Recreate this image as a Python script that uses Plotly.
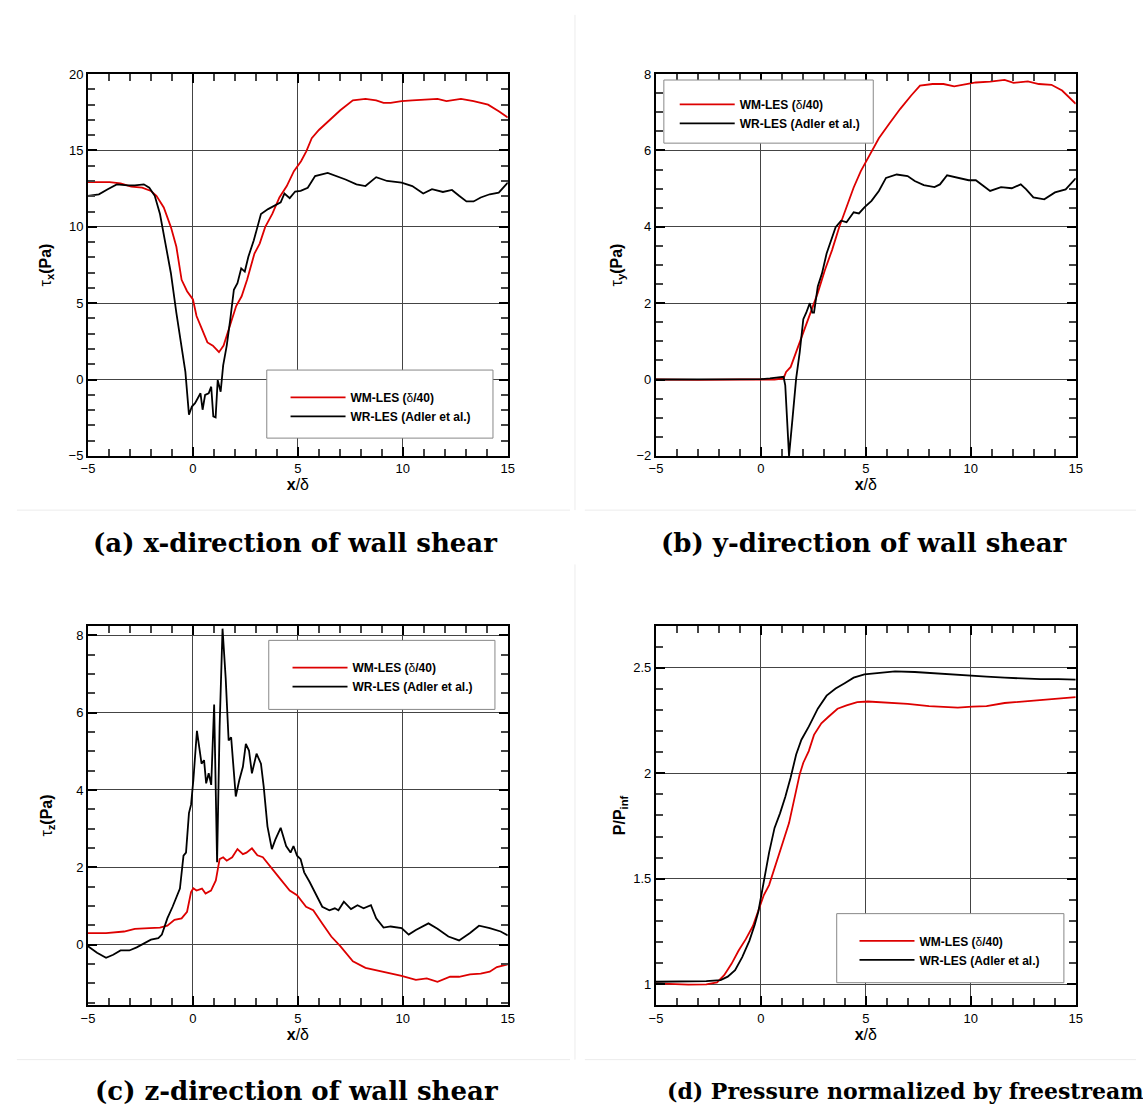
import plotly.graph_objects as go

W, H = 1143, 1115

# ---------------- data ----------------
# (a) tau_x
ax_wm_x = [-5, -3.97, -3.45, -2.94, -2.42, -2.0, -1.74, -1.39, -1.05, -0.79, -0.54, -0.28, 0.0, 0.17, 0.43, 0.69, 0.95, 1.24, 1.46, 1.81, 2.06, 2.32, 2.58, 2.93, 3.18, 3.44, 3.78, 4.12, 4.47, 4.81, 5.15, 5.4, 5.66, 6.0, 6.52, 7.02, 7.62, 8.22, 8.73, 9.08, 9.42, 9.94, 10.45, 10.97, 11.65, 12.08, 12.77, 13.37, 14.06, 14.57, 15]
ax_wm_y = [12.93, 12.93, 12.85, 12.63, 12.56, 12.35, 12.03, 11.27, 9.98, 8.69, 6.53, 5.78, 5.24, 4.16, 3.30, 2.43, 2.22, 1.79, 2.22, 3.73, 4.81, 5.45, 6.53, 8.25, 8.9, 9.98, 10.84, 11.92, 12.67, 13.64, 14.29, 14.94, 15.8, 16.34, 16.98, 17.63, 18.28, 18.38, 18.28, 18.12, 18.12, 18.23, 18.28, 18.32, 18.38, 18.23, 18.38, 18.23, 18.0, 17.56, 17.16]
ax_wr_x = [-5, -4.48, -4.06, -3.63, -3.11, -2.77, -2.34, -2.08, -1.82, -1.57, -1.31, -1.05, -0.79, -0.54, -0.36, -0.19, -0.05, 0.1, 0.24, 0.36, 0.46, 0.58, 0.75, 0.87, 0.97, 1.08, 1.18, 1.32, 1.44, 1.61, 1.78, 1.95, 2.12, 2.30, 2.47, 2.64, 2.90, 3.07, 3.24, 3.58, 3.93, 4.18, 4.36, 4.61, 4.87, 5.13, 5.47, 5.82, 6.42, 6.85, 7.27, 7.79, 8.22, 8.73, 9.25, 9.94, 10.45, 10.97, 11.39, 11.91, 12.34, 12.68, 13.03, 13.37, 13.71, 14.14, 14.57, 15]
ax_wr_y = [12.03, 12.13, 12.46, 12.78, 12.71, 12.71, 12.78, 12.56, 12.03, 10.84, 8.90, 6.96, 4.37, 2.22, 0.50, -2.3, -1.77, -1.55, -1.23, -0.9, -1.98, -1.01, -0.9, -0.47, -2.41, -2.48, -0.04, -0.8, 0.93, 2.22, 3.95, 5.88, 6.31, 7.28, 7.07, 8.04, 9.12, 9.98, 10.84, 11.16, 11.44, 11.6, 12.18, 11.88, 12.31, 12.35, 12.56, 13.32, 13.53, 13.32, 13.1, 12.78, 12.67, 13.25, 13.0, 12.89, 12.67, 12.18, 12.46, 12.28, 12.41, 12.03, 11.66, 11.66, 11.92, 12.13, 12.24, 12.89]

# (b) tau_y
ay_wm_x = [-5, -3.0, -1.0, 0.0, 0.65, 1.08, 1.2, 1.42, 1.68, 2.02, 2.36, 2.71, 3.05, 3.39, 3.73, 4.08, 4.42, 4.76, 5.10, 5.62, 6.13, 6.64, 7.16, 7.58, 8.18, 8.70, 9.21, 9.73, 10.24, 10.92, 11.61, 12.04, 12.72, 13.24, 13.84, 14.35, 15]
ay_wm_y = [0.0, -0.01, 0.0, 0.0, 0.0, 0.03, 0.2, 0.33, 0.72, 1.23, 1.71, 2.27, 2.87, 3.39, 3.99, 4.51, 5.03, 5.46, 5.80, 6.32, 6.71, 7.09, 7.44, 7.70, 7.74, 7.74, 7.68, 7.74, 7.78, 7.80, 7.85, 7.77, 7.81, 7.74, 7.72, 7.57, 7.22]
ay_wr_x = [-5, -2.5, 0.0, 0.43, 1.08, 1.16, 1.34, 1.51, 1.68, 1.85, 2.02, 2.16, 2.33, 2.45, 2.53, 2.71, 2.91, 3.13, 3.30, 3.56, 3.82, 4.08, 4.42, 4.67, 4.93, 5.27, 5.62, 5.96, 6.47, 6.99, 7.33, 7.76, 8.27, 8.53, 8.87, 9.38, 9.90, 10.24, 10.58, 10.92, 11.44, 11.95, 12.38, 12.64, 12.98, 13.50, 14.01, 14.52, 15]
ay_wr_y = [0.0, 0.0, 0.01, 0.03, 0.07, -0.15, -2.0, -1.0, 0.03, 0.72, 1.58, 1.75, 2.0, 1.75, 1.75, 2.44, 2.78, 3.30, 3.56, 3.99, 4.16, 4.12, 4.38, 4.35, 4.51, 4.68, 4.94, 5.28, 5.37, 5.33, 5.20, 5.09, 5.04, 5.11, 5.35, 5.28, 5.22, 5.22, 5.07, 4.94, 5.04, 5.01, 5.11, 4.98, 4.77, 4.72, 4.90, 4.98, 5.27]

# (c) tau_z
az_wm_x = [-5, -4.14, -3.28, -2.77, -2.08, -1.57, -1.22, -0.88, -0.54, -0.28, -0.09, 0.02, 0.17, 0.43, 0.60, 0.86, 1.09, 1.27, 1.44, 1.61, 1.87, 2.12, 2.38, 2.55, 2.81, 3.07, 3.33, 3.67, 4.10, 4.61, 4.96, 5.39, 5.73, 6.16, 6.59, 7.02, 7.62, 8.22, 9.08, 9.94, 10.62, 11.14, 11.65, 12.25, 12.68, 13.20, 13.71, 14.14, 14.48, 15]
az_wm_y = [0.30, 0.30, 0.34, 0.41, 0.43, 0.44, 0.49, 0.64, 0.68, 0.85, 1.36, 1.46, 1.40, 1.45, 1.32, 1.40, 1.66, 2.21, 2.26, 2.17, 2.26, 2.47, 2.34, 2.38, 2.49, 2.31, 2.26, 2.04, 1.74, 1.40, 1.28, 0.98, 0.89, 0.55, 0.21, -0.04, -0.43, -0.60, -0.70, -0.81, -0.91, -0.87, -0.96, -0.83, -0.83, -0.77, -0.75, -0.70, -0.58, -0.51]
az_wr_x = [-5, -4.57, -4.14, -3.80, -3.45, -3.03, -2.68, -2.34, -2.00, -1.65, -1.48, -1.22, -0.97, -0.62, -0.45, -0.33, -0.19, -0.09, 0.02, 0.19, 0.33, 0.41, 0.53, 0.63, 0.75, 0.87, 1.01, 1.15, 1.27, 1.41, 1.56, 1.70, 1.82, 1.90, 2.04, 2.21, 2.38, 2.52, 2.67, 2.81, 3.03, 3.24, 3.37, 3.55, 3.76, 3.93, 4.18, 4.44, 4.65, 4.79, 4.96, 5.13, 5.30, 5.56, 5.82, 6.16, 6.50, 6.76, 6.93, 7.19, 7.53, 7.84, 8.13, 8.48, 8.73, 9.08, 9.42, 9.94, 10.28, 10.62, 11.22, 11.65, 12.17, 12.68, 13.20, 13.63, 14.14, 14.66, 15]
az_wr_y = [-0.04, -0.21, -0.34, -0.26, -0.15, -0.15, -0.07, 0.04, 0.13, 0.17, 0.26, 0.68, 0.98, 1.45, 2.30, 2.38, 3.40, 3.62, 4.26, 5.53, 5.02, 4.68, 4.77, 4.17, 4.43, 4.13, 6.21, 2.13, 5.62, 8.17, 6.89, 5.28, 5.36, 4.85, 3.83, 4.26, 4.60, 5.19, 5.02, 4.43, 4.94, 4.68, 4.09, 3.06, 2.47, 2.72, 3.02, 2.55, 2.38, 2.55, 2.30, 2.21, 1.87, 1.62, 1.36, 0.98, 0.89, 0.94, 0.89, 1.11, 0.92, 1.02, 0.94, 1.02, 0.68, 0.44, 0.47, 0.43, 0.26, 0.38, 0.55, 0.41, 0.21, 0.11, 0.30, 0.49, 0.43, 0.34, 0.24]

# (d) P / P_inf
ap_wm_x = [-5, -4.14, -3.46, -2.60, -2.09, -1.75, -1.40, -1.06, -0.72, -0.38, -0.03, 0.14, 0.39, 0.65, 0.99, 1.34, 1.59, 1.85, 2.02, 2.28, 2.53, 2.88, 3.22, 3.65, 4.08, 4.59, 5.10, 5.96, 6.99, 8.01, 8.87, 9.38, 10.07, 10.75, 11.61, 12.47, 13.32, 14.18, 15]
ap_wm_y = [1.004, 1.0, 0.998, 1.0, 1.009, 1.043, 1.097, 1.16, 1.214, 1.276, 1.369, 1.423, 1.47, 1.555, 1.655, 1.764, 1.872, 1.996, 2.05, 2.105, 2.182, 2.237, 2.268, 2.306, 2.322, 2.337, 2.34, 2.334, 2.329, 2.318, 2.312, 2.311, 2.316, 2.318, 2.333, 2.34, 2.35, 2.356, 2.361]
ap_wr_x = [-5, -3.80, -2.60, -1.92, -1.58, -1.23, -0.89, -0.55, -0.29, -0.12, 0.05, 0.22, 0.39, 0.65, 0.91, 1.16, 1.42, 1.68, 1.93, 2.28, 2.71, 3.13, 3.56, 3.99, 4.42, 4.93, 5.62, 6.39, 7.33, 8.18, 9.04, 9.90, 10.75, 11.61, 12.47, 13.32, 14.18, 15]
ap_wr_y = [1.012, 1.014, 1.015, 1.02, 1.036, 1.067, 1.129, 1.206, 1.283, 1.345, 1.439, 1.516, 1.624, 1.741, 1.810, 1.888, 1.981, 2.089, 2.159, 2.221, 2.306, 2.368, 2.402, 2.427, 2.453, 2.469, 2.477, 2.483, 2.48, 2.474, 2.467, 2.463, 2.458, 2.453, 2.449, 2.446, 2.446, 2.444]

names = ["<b>WM-LES (</b>δ<b>/40)</b>", "<b>WR-LES (Adler et al.)</b>"]
colors = ["#dd0000", "#000000"]

# axis tick settings: (range, major step, minor step)
x_range, x_dtick, x_minor = [-5, 15], 5, 1
ya_range, ya_dtick, ya_minor = [-5, 20], 5, 1
yb_range, yb_dtick, yb_minor = [-2, 8], 2, 0.5
yc_range, yc_dtick, yc_minor = [-1.57, 8.25], 2, 0.5
yd_range, yd_dtick, yd_minor = [0.9, 2.7], 0.5, 0.1

captions = ["(a) x-direction of wall shear", "(b) y-direction of wall shear",
            "(c) z-direction of wall shear", "(d) Pressure normalized by freestream"]

# ---------------- figure ----------------
fig = go.Figure()
panels = [
    (ax_wm_x, ax_wm_y, ax_wr_x, ax_wr_y, "x", "y", "legend"),
    (ay_wm_x, ay_wm_y, ay_wr_x, ay_wr_y, "x2", "y2", "legend2"),
    (az_wm_x, az_wm_y, az_wr_x, az_wr_y, "x3", "y3", "legend3"),
    (ap_wm_x, ap_wm_y, ap_wr_x, ap_wr_y, "x4", "y4", "legend4"),
]
for (x1, y1, x2, y2, xa, ya, lg) in panels:
    fig.add_trace(go.Scatter(x=x1, y=y1, mode="lines", name=names[0], xaxis=xa, yaxis=ya,
                             line=dict(color=colors[0], width=1.8), legend=lg))
    fig.add_trace(go.Scatter(x=x2, y=y2, mode="lines", name=names[1], xaxis=xa, yaxis=ya,
                             line=dict(color=colors[1], width=1.8), legend=lg))

def px(v):
    return v / W

def py(v):
    return 1 - v / H

tickfont = dict(family="Liberation Sans, Arial, sans-serif", size=13, color="black")
titlefont = dict(family="Liberation Sans, Arial, sans-serif", size=16, color="black")

def common(rng, dt, mdt):
    return dict(range=rng, tickmode="linear", tick0=0, dtick=dt,
                showline=True, linecolor="black", linewidth=2, mirror="allticks",
                ticks="inside", ticklen=9, tickwidth=2, tickcolor="black",
                showgrid=True, gridcolor="#444", gridwidth=1, zeroline=False,
                minor=dict(tick0=0, dtick=mdt, ticks="inside", ticklen=7, tickwidth=1.5,
                           tickcolor="#444", showgrid=False),
                tickfont=tickfont)

def xaxis(dom, anchor):
    d = common(x_range, x_dtick, x_minor)
    d.update(domain=dom, anchor=anchor, title=dict(text="<b>x</b>/δ", font=titlefont, standoff=2))
    return d

def yaxis(dom, anchor, rng, dt, mdt, title, standoff):
    d = common(rng, dt, mdt)
    d.update(domain=dom, anchor=anchor, title=dict(text=title, font=titlefont, standoff=standoff))
    return d

xl = [px(82), px(507)]
xr = [px(657), px(1082)]
yt = [py(455), py(68)]
yb = [py(1012), py(627)]

fig.update_layout(
    width=W, height=H, margin=dict(l=0, r=0, t=0, b=0),
    paper_bgcolor="white", plot_bgcolor="white",
    xaxis=xaxis(xl, "y"),
    yaxis=yaxis(yt, "x", ya_range, ya_dtick, ya_minor, "τ<sub><b>x</b></sub><b>(Pa)</b>", 13),
    xaxis2=xaxis(xr, "y2"),
    yaxis2=yaxis(yt, "x2", yb_range, yb_dtick, yb_minor, "τ<sub><b>y</b></sub><b>(Pa)</b>", 10),
    xaxis3=xaxis(xl, "y3"),
    yaxis3=yaxis(yb, "x3", yc_range, yc_dtick, yc_minor, "τ<sub><b>z</b></sub><b>(Pa)</b>", 20),
    xaxis4=xaxis(xr, "y4"),
    yaxis4=yaxis(yb, "x4", yd_range, yd_dtick, yd_minor, "<b>P/P<sub>inf</sub></b>", 4),
    showlegend=True,
)

legfont = dict(family="Liberation Sans, Arial, sans-serif", size=12, color="black")
leg_common = dict(bgcolor="rgba(0,0,0,0)", borderwidth=0, font=legfont, xanchor="left", yanchor="top",
                  itemwidth=55, tracegroupgap=0, traceorder="normal")
legend_pos = [(282, 381), (676, 84), (284, 655), (858, 932)]
fig.update_layout(
    legend=dict(x=px(legend_pos[0][0]), y=py(legend_pos[0][1]), **leg_common),
    legend2=dict(x=px(legend_pos[1][0]), y=py(legend_pos[1][1]), **leg_common),
    legend3=dict(x=px(legend_pos[2][0]), y=py(legend_pos[2][1]), **leg_common),
    legend4=dict(x=px(legend_pos[3][0]), y=py(legend_pos[3][1]), **leg_common),
)

shapes = []
# legend boxes
for (x0, y0, x1, y1) in [(263, 368, 492, 437), (665, 74, 877, 138), (265, 642, 494, 712), (840, 919, 1070, 989)]:
    shapes.append(dict(type="rect", xref="paper", yref="paper", x0=px(x0), x1=px(x1), y0=py(y1), y1=py(y0),
                       line=dict(color="#888", width=1), fillcolor="white", layer="above"))
# faint sub-figure separators
for (x0, y0, x1, y1) in [(10, 510, 570, 510), (585, 510, 1143, 510), (575, 8, 575, 510),
                         (10, 1067, 570, 1067), (585, 1067, 1143, 1067), (575, 565, 575, 1067)]:
    shapes.append(dict(type="line", xref="paper", yref="paper", x0=px(x0), x1=px(x1), y0=py(y0), y1=py(y1),
                       line=dict(color="#ececec", width=1)))
fig.update_layout(shapes=shapes)

capfont = dict(family="DejaVu Serif, serif", size=26, color="black")
capfont_d = dict(family="DejaVu Serif, serif", size=22, color="black")
anns = [
    dict(text="<b>" + captions[0] + "</b>", x=px(292), y=py(543), xanchor="center", yanchor="middle", font=capfont),
    dict(text="<b>" + captions[1] + "</b>", x=px(868), y=py(543), xanchor="center", yanchor="middle", font=capfont),
    dict(text="<b>" + captions[2] + "</b>", x=px(293), y=py(1099), xanchor="center", yanchor="middle", font=capfont),
    dict(text="<b>" + captions[3] + "</b>", x=px(666), y=py(1099), xanchor="left", yanchor="middle", font=capfont_d),
]
for a in anns:
    a.update(xref="paper", yref="paper", showarrow=False)
fig.update_layout(annotations=anns)

fig.write_html("out.html")
